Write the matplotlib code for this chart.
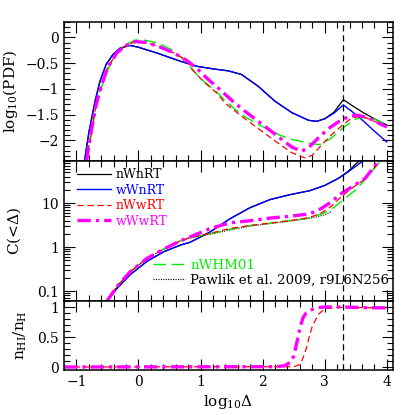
import matplotlib
matplotlib.use("Agg")
import matplotlib.pyplot as plt
from matplotlib.ticker import MultipleLocator, LogLocator, NullFormatter
import numpy as np

plt.rcParams['font.family'] = ['DejaVu Serif']
plt.rcParams['mathtext.fontset'] = 'dejavuserif'

# ---------------- data: log10 PDF (top panel) ----------------
pdf_nWnRT_x = [-0.87, -0.80, -0.70, -0.62, -0.52, -0.41, -0.30, -0.14, 0.00, 0.29, 0.67, 0.94, 1.20, 1.45, 1.66, 1.93, 2.20, 2.47, 2.74, 2.87, 3.00, 3.15, 3.30, 3.45, 3.62, 3.80, 4.00]
pdf_nWnRT_y = [-2.40, -1.85, -1.24, -0.85, -0.52, -0.33, -0.21, -0.155, -0.19, -0.30, -0.46, -0.56, -0.61, -0.65, -0.72, -0.95, -1.24, -1.46, -1.61, -1.63, -1.58, -1.45, -1.21, -1.33, -1.46, -1.58, -1.70]
pdf_wWnRT_x = [-0.87, -0.80, -0.70, -0.62, -0.52, -0.41, -0.30, -0.14, 0.00, 0.29, 0.67, 0.94, 1.20, 1.45, 1.66, 1.93, 2.20, 2.47, 2.74, 2.87, 3.00, 3.15, 3.30, 3.45, 3.62, 3.80, 4.00]
pdf_wWnRT_y = [-2.40, -1.85, -1.24, -0.85, -0.52, -0.33, -0.21, -0.155, -0.19, -0.30, -0.46, -0.56, -0.61, -0.65, -0.72, -0.95, -1.24, -1.46, -1.61, -1.63, -1.58, -1.47, -1.31, -1.45, -1.62, -1.82, -2.03]
pdf_nWwRT_x = [-0.84, -0.76, -0.68, -0.60, -0.50, -0.35, -0.21, -0.05, 0.14, 0.355, 0.57, 0.78, 0.86, 1.05, 1.27, 1.39, 1.66, 1.93, 2.20, 2.47, 2.68, 2.80, 2.92, 3.09, 3.30, 3.44, 3.60, 3.86, 4.00]
pdf_nWwRT_y = [-2.40, -1.82, -1.30, -0.95, -0.59, -0.30, -0.16, -0.08, -0.10, -0.19, -0.30, -0.45, -0.62, -0.86, -1.09, -1.27, -1.53, -1.77, -2.01, -2.24, -2.34, -2.29, -2.13, -1.91, -1.69, -1.56, -1.53, -1.66, -1.74]
pdf_wWwRT_x = [-0.84, -0.76, -0.68, -0.60, -0.50, -0.35, -0.21, -0.05, 0.14, 0.355, 0.57, 0.78, 0.94, 1.10, 1.30, 1.50, 1.70, 1.93, 2.20, 2.47, 2.63, 2.74, 2.90, 3.06, 3.22, 3.30, 3.40, 3.52, 3.70, 3.86, 4.00]
pdf_wWwRT_y = [-2.40, -1.82, -1.30, -0.95, -0.59, -0.30, -0.16, -0.08, -0.10, -0.19, -0.30, -0.45, -0.60, -0.79, -1.00, -1.22, -1.42, -1.63, -1.88, -2.13, -2.21, -2.14, -1.95, -1.77, -1.64, -1.59, -1.53, -1.51, -1.56, -1.66, -1.74]
pdf_nWHM01_x = [-0.83, -0.75, -0.68, -0.59, -0.48, -0.35, -0.21, -0.05, 0.085, 0.30, 0.52, 0.70, 0.83, 0.94, 1.05, 1.27, 1.39, 1.66, 1.93, 2.28, 2.47, 2.82, 2.92, 3.09, 3.30, 3.49, 3.62, 3.81, 4.00]
pdf_nWHM01_y = [-2.40, -1.82, -1.30, -0.95, -0.59, -0.30, -0.14, -0.05, -0.05, -0.10, -0.23, -0.40, -0.56, -0.72, -0.85, -1.07, -1.22, -1.50, -1.69, -1.90, -1.98, -2.07, -2.08, -1.97, -1.75, -1.59, -1.55, -1.59, -1.70]

# ---------------- data: C(<Delta) (middle panel) ----------------
c_nWnRT_x = [-0.51, -0.345, -0.13, 0.14, 0.41, 0.68, 0.83, 1.15, 1.47, 1.80, 2.12, 2.44, 2.76, 3.00, 3.22, 3.38, 3.52, 3.60]
c_nWnRT_v = [0.059, 0.117, 0.24, 0.48, 0.79, 1.12, 1.29, 2.19, 4.37, 7.9, 12.0, 15.5, 19.1, 25.1, 36.3, 53.0, 82.0, 100.0]
c_wWnRT_x = [-0.51, -0.345, -0.13, 0.14, 0.41, 0.68, 0.83, 1.15, 1.47, 1.80, 2.12, 2.44, 2.76, 3.00, 3.22, 3.38, 3.60, 3.66]
c_wWnRT_v = [0.059, 0.117, 0.24, 0.48, 0.79, 1.12, 1.29, 2.19, 4.37, 7.9, 12.0, 15.5, 19.1, 25.1, 36.3, 51.3, 87.0, 100.0]
c_nWwRT_x = [-0.51, -0.345, -0.13, 0.14, 0.41, 0.68, 0.83, 1.15, 1.47, 1.80, 2.12, 2.44, 2.76, 2.95, 3.11, 3.27, 3.44, 3.65, 3.86, 3.92]
c_nWwRT_v = [0.059, 0.129, 0.28, 0.56, 0.91, 1.40, 1.65, 2.05, 2.65, 3.1, 3.5, 4.0, 4.7, 6.0, 8.5, 14.0, 22.0, 35.0, 80.0, 100.0]
c_wWwRT_x = [-0.51, -0.345, -0.13, 0.14, 0.41, 0.68, 0.83, 1.15, 1.47, 1.80, 2.12, 2.44, 2.76, 2.95, 3.11, 3.27, 3.44, 3.65, 3.86, 3.92]
c_wWwRT_v = [0.059, 0.129, 0.28, 0.56, 0.91, 1.40, 1.70, 2.63, 3.55, 3.98, 4.57, 5.0, 5.7, 7.6, 10.7, 16.6, 23.4, 36.3, 87.0, 100.0]
c_nWHM01_x = [-0.51, -0.345, -0.13, 0.14, 0.41, 0.68, 0.83, 1.15, 1.50, 1.80, 2.12, 2.44, 2.76, 3.00, 3.15, 3.30, 3.50, 3.68, 3.89, 3.95]
c_nWHM01_v = [0.059, 0.129, 0.28, 0.56, 0.91, 1.40, 1.65, 2.00, 2.6, 3.1, 3.5, 4.0, 4.6, 6.0, 8.0, 12.0, 20.0, 38.0, 87.0, 100.0]
c_pawlik_x = [-0.51, -0.345, -0.13, 0.14, 0.41, 0.68, 0.83, 1.15, 1.50, 1.80, 2.44, 2.76, 3.00, 3.11]
c_pawlik_v = [0.059, 0.129, 0.28, 0.56, 0.91, 1.40, 1.63, 1.95, 2.5, 3.0, 3.9, 4.5, 5.4, 6.4]

# ---------------- data: neutral fraction (bottom panel) ----------------
hi_wWwRT_x = [-1.20, 2.20, 2.35, 2.45, 2.50, 2.55, 2.60, 2.65, 2.70, 2.80, 2.90, 3.00, 3.30, 3.60, 4.00]
hi_wWwRT_y = [0.0, 0.005, 0.02, 0.08, 0.18, 0.40, 0.65, 0.82, 0.90, 0.96, 0.99, 1.0, 1.0, 0.99, 0.985]
hi_nWwRT_x = [-1.20, 2.50, 2.60, 2.65, 2.70, 2.75, 2.80, 2.90, 3.00, 3.20, 3.50, 4.00]
hi_nWwRT_y = [0.0, 0.005, 0.04, 0.15, 0.30, 0.50, 0.68, 0.88, 0.97, 0.995, 0.99, 0.985]

vline_x = 3.3
labels = ['nWnRT', 'wWnRT', 'nWwRT', 'wWwRT', 'nWHM01', 'Pawlik et al. 2009, r9L6N256']

# ---------------- styles ----------------
BLACK, BLUE, RED, MAG, GREEN = 'black', '#0000ff', '#ff0000', '#ff00ff', '#00ee00'
st = {
    'nWnRT': dict(color=BLACK, lw=0.9, ls='-'),
    'wWnRT': dict(color=BLUE, lw=1.0, ls='-'),
    'nWwRT': dict(color=RED, lw=0.9, ls=(0, (5, 3))),
    'wWwRT': dict(color=MAG, lw=2.4, ls=(0, (4, 1.5, 1, 1.5))),
    'nWHM01': dict(color=GREEN, lw=1.0, ls=(0, (9, 4))),
    'pawlik': dict(color=BLACK, lw=0.8, ls=(0, (1, 1.2))),
}

fig = plt.figure(figsize=(4.15, 4.15), dpi=100)
L, W = 64/415, 329/415
ax1 = fig.add_axes([L, 1-161/415, W, 139/415])
ax2 = fig.add_axes([L, 1-301/415, W, 140/415])
ax3 = fig.add_axes([L, 1-370/415, W, 69/415])

# top
ax1.plot(pdf_nWnRT_x, pdf_nWnRT_y, **st['nWnRT'])
ax1.plot(pdf_wWnRT_x, pdf_wWnRT_y, **st['wWnRT'])
ax1.plot(pdf_nWHM01_x, pdf_nWHM01_y, **st['nWHM01'])
ax1.plot(pdf_nWwRT_x, pdf_nWwRT_y, **st['nWwRT'])
ax1.plot(pdf_wWwRT_x, pdf_wWwRT_y, **st['wWwRT'])
ax1.set_ylim(-2.4, 0.3)

# middle
h1, = ax2.plot(c_nWnRT_x, c_nWnRT_v, **st['nWnRT'])
h2, = ax2.plot(c_wWnRT_x, c_wWnRT_v, **st['wWnRT'])
h6, = ax2.plot(c_pawlik_x, c_pawlik_v, **st['pawlik'])
h5, = ax2.plot(c_nWHM01_x, c_nWHM01_v, **st['nWHM01'])
h3, = ax2.plot(c_nWwRT_x, c_nWwRT_v, **st['nWwRT'])
h4, = ax2.plot(c_wWwRT_x, c_wWwRT_v, **st['wWwRT'])
ax2.set_yscale('log')
ax2.set_ylim(0.06, 90)

# bottom
ax3.plot(hi_nWwRT_x, hi_nWwRT_y, **st['nWwRT'])
ax3.plot(hi_wWwRT_x, hi_wWwRT_y, **st['wWwRT'])
ax3.set_ylim(-0.05, 1.1)

for ax in (ax1, ax2, ax3):
    ax.axvline(vline_x, color='black', lw=0.9, ls=(0, (5, 3)))
    ax.set_xlim(-1.2, 4.1)
    ax.xaxis.set_major_locator(MultipleLocator(1))
    ax.xaxis.set_minor_locator(MultipleLocator(0.2))
    ax.tick_params(which='both', direction='in', top=True, right=True, labelsize=10, width=0.8)
    ax.tick_params(which='major', length=8)
    ax.tick_params(which='minor', length=4)
    for s in ax.spines.values():
        s.set_linewidth(1.1)

ax1.yaxis.set_minor_locator(MultipleLocator(0.1))
ax1.set_yticks([0, -0.5, -1, -1.5, -2])
ax1.set_yticklabels(['0', '\u22120.5', '\u22121', '\u22121.5', '\u22122'])
ax1.tick_params(labelbottom=False)
ax2.tick_params(labelbottom=False)
ax2.set_yticks([0.1, 1, 10])
ax2.set_yticklabels(['0.1', '1', '10'])
ax2.yaxis.set_minor_locator(LogLocator(base=10, subs=np.arange(2, 10)))
ax2.yaxis.set_minor_formatter(NullFormatter())
ax3.set_yticks([0, 0.5, 1])
ax3.set_yticklabels(['0', '0.5', '1'])
ax3.yaxis.set_minor_locator(MultipleLocator(0.1))
ax3.set_xticks([-1, 0, 1, 2, 3, 4])
ax3.set_xticklabels(['\u22121', '0', '1', '2', '3', '4'])

ax1.set_ylabel(r'log$_{10}$(PDF)', fontsize=11, labelpad=4)
ax2.set_ylabel(r'C(<$\Delta$)', fontsize=11, labelpad=10)
ax3.set_ylabel(r'n$_{\rm HI}$/n$_{\rm H}$', fontsize=11, labelpad=6)
ax3.set_xlabel(r'log$_{10}\Delta$', fontsize=11, labelpad=3)
fig.align_ylabels([ax1, ax2, ax3])

leg1 = ax2.legend([h1, h2, h3, h4], labels[:4], loc='upper left', bbox_to_anchor=(0.04, 0.95),
                  frameon=False, fontsize=9, handlelength=2.7, handletextpad=0.4,
                  labelspacing=0.2, borderpad=0, borderaxespad=0)
for t, c in zip(leg1.get_texts(), [BLACK, BLUE, RED, MAG]):
    t.set_color(c)
ax2.add_artist(leg1)
leg2 = ax2.legend([h5, h6], labels[4:], loc='upper left', bbox_to_anchor=(0.27, 0.30),
                  frameon=False, fontsize=9.6, handlelength=2.4, handletextpad=0.4,
                  labelspacing=0.1, borderpad=0, borderaxespad=0)
for t, c in zip(leg2.get_texts(), [GREEN, BLACK]):
    t.set_color(c)

fig.savefig('out.png', dpi=100)
